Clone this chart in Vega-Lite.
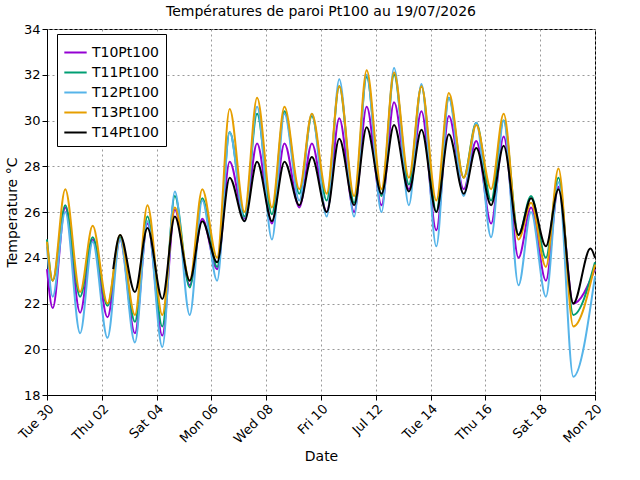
{
"$schema":"https://vega.github.io/schema/vega-lite/v6.json",
"width":548,"height":366,
"padding":{"left":5,"top":5,"right":25,"bottom":5},
"title":{"text":"Températures de paroi Pt100 au 19/07/2026","fontSize":14,"fontWeight":"normal","font":"DejaVu Sans"},
"config":{"font":"DejaVu Sans","view":{"stroke":"black"},"axis":{"gridDash":[2,3],"gridColor":"#999","labelFontSize":13,"titleFontSize":14,"titleFontWeight":"normal","domainColor":"black","tickColor":"black","labelColor":"black"}},
"data":{"values":[
{"t":"2026-06-30T00:00Z","T10":23.5,"T11":24.8,"T12":24.5,"T13":24.7,"T14":null},
{"t":"2026-06-30T05:00Z","T10":21.8,"T11":23.0,"T12":22.3,"T13":23.0,"T14":null},
{"t":"2026-06-30T16:00Z","T10":26.2,"T11":26.3,"T12":26.0,"T13":27.0,"T14":null},
{"t":"2026-07-01T05:00Z","T10":21.6,"T11":22.3,"T12":20.7,"T13":22.5,"T14":null},
{"t":"2026-07-01T16:00Z","T10":24.8,"T11":24.9,"T12":24.7,"T13":25.4,"T14":null},
{"t":"2026-07-02T05:00Z","T10":21.4,"T11":21.9,"T12":20.5,"T13":22.0,"T14":null},
{"t":"2026-07-02T10:00Z","T10":null,"T11":null,"T12":null,"T13":null,"T14":23.5},
{"t":"2026-07-02T16:00Z","T10":24.8,"T11":24.9,"T12":24.8,"T13":25.0,"T14":25.0},
{"t":"2026-07-03T05:00Z","T10":20.7,"T11":21.2,"T12":20.3,"T13":21.5,"T14":22.5},
{"t":"2026-07-03T16:00Z","T10":25.5,"T11":25.8,"T12":25.6,"T13":26.3,"T14":25.3},
{"t":"2026-07-04T05:00Z","T10":20.6,"T11":21.0,"T12":20.1,"T13":21.5,"T14":22.2},
{"t":"2026-07-04T16:00Z","T10":26.1,"T11":26.7,"T12":26.9,"T13":26.2,"T14":25.8},
{"t":"2026-07-05T05:00Z","T10":22.8,"T11":22.7,"T12":21.5,"T13":23.0,"T14":23.0},
{"t":"2026-07-05T16:00Z","T10":25.7,"T11":26.6,"T12":26.5,"T13":27.0,"T14":25.6},
{"t":"2026-07-06T05:00Z","T10":23.5,"T11":23.6,"T12":23.0,"T13":24.0,"T14":23.8},
{"t":"2026-07-06T16:00Z","T10":28.2,"T11":29.5,"T12":29.5,"T13":30.5,"T14":27.5},
{"t":"2026-07-07T05:00Z","T10":25.7,"T11":25.8,"T12":25.6,"T13":26.0,"T14":25.6},
{"t":"2026-07-07T16:00Z","T10":29.0,"T11":30.3,"T12":30.6,"T13":31.0,"T14":28.2},
{"t":"2026-07-08T05:00Z","T10":25.5,"T11":25.9,"T12":24.8,"T13":26.2,"T14":25.6},
{"t":"2026-07-08T16:00Z","T10":29.0,"T11":30.4,"T12":30.3,"T13":30.6,"T14":28.2},
{"t":"2026-07-09T05:00Z","T10":26.2,"T11":26.8,"T12":26.5,"T13":27.0,"T14":26.3},
{"t":"2026-07-09T16:00Z","T10":29.0,"T11":30.2,"T12":30.3,"T13":30.3,"T14":28.4},
{"t":"2026-07-10T05:00Z","T10":26.0,"T11":26.5,"T12":25.8,"T13":26.8,"T14":26.0},
{"t":"2026-07-10T16:00Z","T10":30.1,"T11":31.5,"T12":31.8,"T13":31.5,"T14":29.2},
{"t":"2026-07-11T05:00Z","T10":26.0,"T11":26.4,"T12":25.8,"T13":26.7,"T14":26.3},
{"t":"2026-07-11T16:00Z","T10":30.6,"T11":31.9,"T12":32.0,"T13":32.2,"T14":29.7},
{"t":"2026-07-12T05:00Z","T10":26.3,"T11":26.7,"T12":26.0,"T13":27.0,"T14":26.8},
{"t":"2026-07-12T16:00Z","T10":30.8,"T11":32.0,"T12":32.3,"T13":32.1,"T14":29.8},
{"t":"2026-07-13T05:00Z","T10":27.0,"T11":27.2,"T12":26.3,"T13":27.5,"T14":26.9},
{"t":"2026-07-13T16:00Z","T10":30.4,"T11":31.5,"T12":31.6,"T13":31.5,"T14":29.6},
{"t":"2026-07-14T05:00Z","T10":25.2,"T11":26.0,"T12":24.5,"T13":26.5,"T14":26.0},
{"t":"2026-07-14T16:00Z","T10":30.2,"T11":31.0,"T12":31.0,"T13":31.2,"T14":29.4},
{"t":"2026-07-15T05:00Z","T10":27.0,"T11":27.5,"T12":26.7,"T13":27.5,"T14":26.8},
{"t":"2026-07-15T16:00Z","T10":29.1,"T11":29.9,"T12":29.9,"T13":29.8,"T14":28.8},
{"t":"2026-07-16T05:00Z","T10":25.5,"T11":26.5,"T12":24.9,"T13":27.0,"T14":26.3},
{"t":"2026-07-16T16:00Z","T10":29.3,"T11":30.0,"T12":30.0,"T13":30.3,"T14":28.9},
{"t":"2026-07-17T05:00Z","T10":24.0,"T11":25.0,"T12":22.8,"T13":24.8,"T14":25.0},
{"t":"2026-07-17T16:00Z","T10":26.2,"T11":26.7,"T12":26.0,"T13":26.4,"T14":26.6},
{"t":"2026-07-18T05:00Z","T10":23.0,"T11":24.0,"T12":22.3,"T13":23.6,"T14":24.5},
{"t":"2026-07-18T16:00Z","T10":27.1,"T11":27.5,"T12":27.3,"T13":27.9,"T14":27.0},
{"t":"2026-07-19T05:00Z","T10":22.0,"T11":21.5,"T12":18.8,"T13":21.0,"T14":22.0},
{"t":"2026-07-19T20:00Z","T10":null,"T11":null,"T12":null,"T13":null,"T14":24.4},
{"t":"2026-07-20T00:00Z","T10":23.5,"T11":23.8,"T12":23.2,"T13":23.7,"T14":24.0}
]},
"transform":[
{"fold":["T10","T11","T12","T13","T14"],"as":["serie","temp"]},
{"filter":"isValid(datum.temp)"}
],
"mark":{"type":"line","interpolate":"monotone","strokeWidth":2},
"encoding":{
"x":{"field":"t","type":"temporal","title":"Date",
"scale":{"type":"utc","domain":["2026-06-30T00:00Z","2026-07-20T00:00Z"]},
"axis":{"format":"%d-%m","formatType":"utc","labelAngle":-45,"labelAlign":"right","grid":true,
"values":["2026-06-30T00:00Z","2026-07-02T00:00Z","2026-07-04T00:00Z","2026-07-06T00:00Z","2026-07-08T00:00Z","2026-07-10T00:00Z","2026-07-12T00:00Z","2026-07-14T00:00Z","2026-07-16T00:00Z","2026-07-18T00:00Z","2026-07-20T00:00Z"]}},
"y":{"field":"temp","type":"quantitative","title":"Temperature °C","scale":{"domain":[18,34],"nice":false},"axis":{"values":[18,20,22,24,26,28,30,32,34],"grid":true}},
"color":{"field":"serie","type":"nominal",
"scale":{"domain":["T10","T11","T12","T13","T14"],"range":["#9400d3","#009e73","#56b4e9","#e69f00","#000000"]},
"legend":{"title":null,"orient":"none","legendX":10,"legendY":5,"labelExpr":"datum.label + 'Pt100'","labelFontSize":14,"symbolType":"stroke","symbolSize":500,"symbolStrokeWidth":2,"rowPadding":0,"strokeColor":"black","fillColor":"white","padding":6}}
}
}
